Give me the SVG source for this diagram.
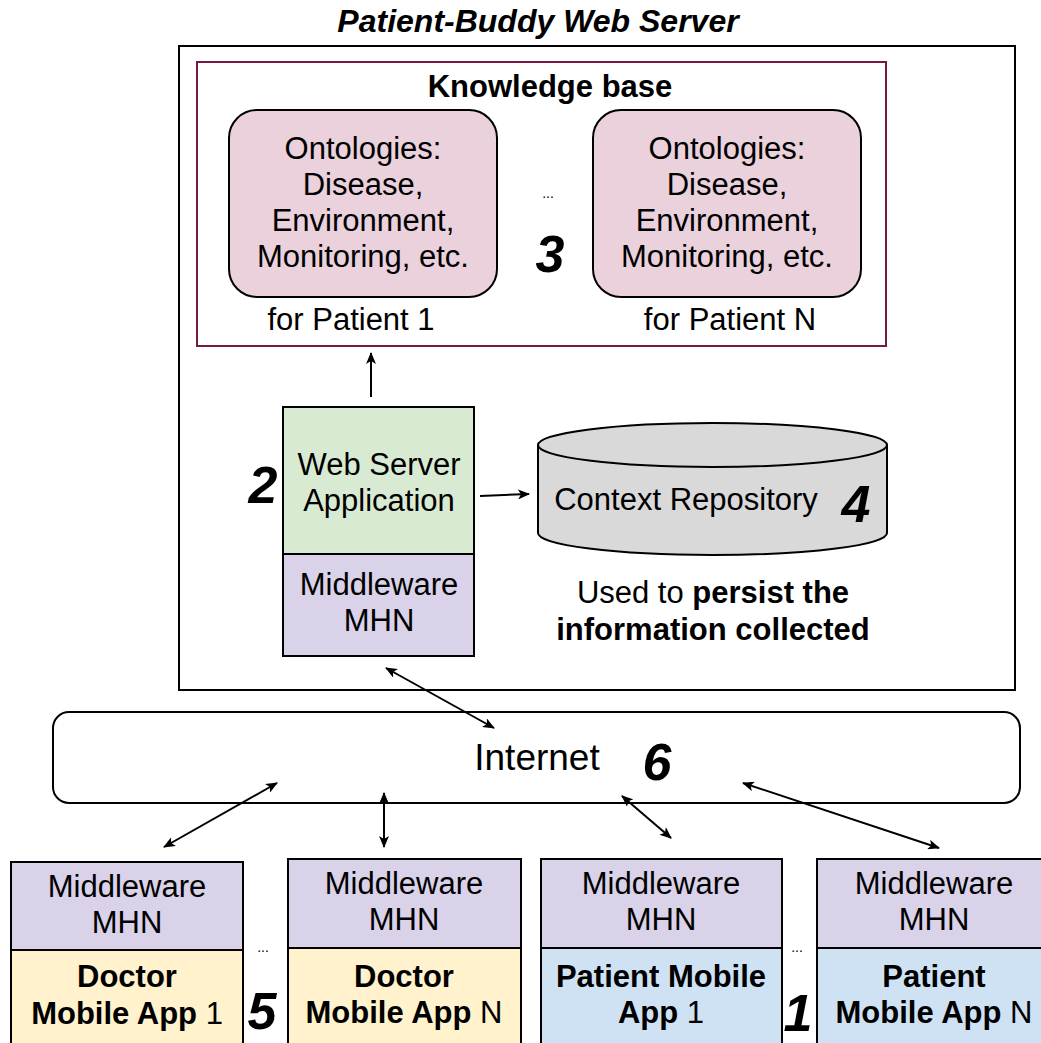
<svg xmlns="http://www.w3.org/2000/svg" width="1041" height="1043" viewBox="0 0 1041 1043">
<style>
text{font-family:"Liberation Sans",Arial,sans-serif;fill:#000;text-anchor:middle}
.t{font-size:31px}
.b{font-weight:bold}
.num{font-size:52px;font-weight:bold;font-style:italic}
.dots{font-size:14px}
.box{stroke:#000;stroke-width:2}
.conn{stroke:#000;stroke-width:2;fill:none}
</style>
<defs>
<marker id="ah" viewBox="0 0 12 10" refX="11" refY="5" markerWidth="12" markerHeight="10" markerUnits="userSpaceOnUse" orient="auto-start-reverse">
<path d="M0,0 L12,5 L0,10 L3,5 z" fill="#000"/>
</marker>
</defs>
<rect width="1041" height="1043" fill="#fff"/>

<text x="538" y="32" style="font-size:32px;font-weight:bold;font-style:italic">Patient-Buddy Web Server</text>

<g id="webserver">
<rect x="179" y="46" width="836" height="644" fill="#fff" class="box"/>
</g>

<g id="knowledge-base">
<rect x="197" y="62" width="689" height="284" fill="none" stroke="#741b47" stroke-width="2"/>
<text x="550" y="97" class="t b">Knowledge base</text>
<text x="548" y="198" class="dots">...</text>
<text x="550" y="272" class="num">3</text>
</g>

<g id="ontology-1">
<rect x="229" y="110" width="268" height="187" rx="28" fill="#ead1dc" class="box"/>
<text x="363" y="159" class="t">Ontologies:</text>
<text x="363" y="195" class="t">Disease,</text>
<text x="363" y="231" class="t">Environment,</text>
<text x="363" y="267" class="t">Monitoring, etc.</text>
<text x="351" y="330" class="t">for Patient 1</text>
</g>

<g id="ontology-n">
<rect x="593" y="110" width="268" height="187" rx="28" fill="#ead1dc" class="box"/>
<text x="727" y="159" class="t">Ontologies:</text>
<text x="727" y="195" class="t">Disease,</text>
<text x="727" y="231" class="t">Environment,</text>
<text x="727" y="267" class="t">Monitoring, etc.</text>
<text x="730" y="330" class="t">for Patient N</text>
</g>

<g id="web-server-app">
<rect x="283" y="407" width="191" height="147" fill="#d9ead3" class="box"/>
<text x="379" y="475" class="t">Web Server</text>
<text x="379" y="511" class="t">Application</text>
<text x="263" y="503" class="num">2</text>
</g>

<g id="server-middleware">
<rect x="283" y="554" width="191" height="102" fill="#d9d2e9" class="box"/>
<text x="379" y="595" class="t">Middleware</text>
<text x="379" y="631" class="t">MHN</text>
</g>

<g id="context-repository">
<path d="M538,445 L538,533 A174.5,22 0 0 0 887,533 L887,445" fill="#d9d9d9" class="box"/>
<ellipse cx="712.5" cy="445" rx="174.5" ry="22" fill="#d9d9d9" class="box"/>
<text x="686" y="510" class="t">Context Repository</text>
<text x="856" y="522" class="num">4</text>
<text x="713" y="603" class="t">Used to <tspan class="b">persist the</tspan></text>
<text x="713" y="640" class="t b">information collected</text>
</g>

<g id="internet">
<rect x="53" y="712" width="967" height="91" rx="16" fill="#fff" class="box"/>
<text x="537" y="770" style="font-size:37px">Internet</text>
<text x="657" y="780" class="num">6</text>
</g>

<g id="doctor-app-1">
<rect x="11" y="862" width="232" height="88" fill="#d9d2e9" class="box"/>
<rect x="11" y="950" width="232" height="100" fill="#fff2cc" class="box"/>
<text x="127" y="897" class="t">Middleware</text>
<text x="127" y="933" class="t">MHN</text>
<text x="127" y="987" class="t b">Doctor</text>
<text x="127" y="1024" class="t"><tspan class="b">Mobile App</tspan> 1</text>
</g>

<text x="263" y="952" class="dots">...</text>
<text x="262" y="1029" class="num">5</text>

<g id="doctor-app-n">
<rect x="288" y="859" width="233" height="89" fill="#d9d2e9" class="box"/>
<rect x="288" y="948" width="233" height="102" fill="#fff2cc" class="box"/>
<text x="404" y="894" class="t">Middleware</text>
<text x="404" y="930" class="t">MHN</text>
<text x="404" y="987" class="t b">Doctor</text>
<text x="404" y="1023" class="t"><tspan class="b">Mobile App</tspan> N</text>
</g>

<g id="patient-app-1">
<rect x="541" y="859" width="241" height="89" fill="#d9d2e9" class="box"/>
<rect x="541" y="948" width="241" height="102" fill="#cfe2f3" class="box"/>
<text x="661" y="894" class="t">Middleware</text>
<text x="661" y="930" class="t">MHN</text>
<text x="661" y="987" class="t b">Patient Mobile</text>
<text x="661" y="1023" class="t"><tspan class="b">App</tspan> 1</text>
</g>

<text x="797" y="952" class="dots">...</text>
<text x="798" y="1031" class="num">1</text>

<g id="patient-app-n">
<rect x="817" y="859" width="235" height="89" fill="#d9d2e9" class="box"/>
<rect x="817" y="948" width="235" height="102" fill="#cfe2f3" class="box"/>
<text x="934" y="894" class="t">Middleware</text>
<text x="934" y="930" class="t">MHN</text>
<text x="934" y="987" class="t b">Patient</text>
<text x="934" y="1023" class="t"><tspan class="b">Mobile App</tspan> N</text>
</g>

<g id="connectors">
<line x1="371" y1="397" x2="371" y2="353" class="conn" marker-end="url(#ah)"/>
<line x1="480" y1="496" x2="529" y2="494" class="conn" marker-end="url(#ah)"/>
<line x1="386" y1="668" x2="494" y2="728" class="conn" marker-start="url(#ah)" marker-end="url(#ah)"/>
<line x1="277" y1="783" x2="164" y2="847" class="conn" marker-start="url(#ah)" marker-end="url(#ah)"/>
<line x1="384" y1="793" x2="384" y2="847" class="conn" marker-start="url(#ah)" marker-end="url(#ah)"/>
<line x1="622" y1="796" x2="671" y2="838" class="conn" marker-start="url(#ah)" marker-end="url(#ah)"/>
<line x1="743" y1="783" x2="939" y2="848" class="conn" marker-start="url(#ah)" marker-end="url(#ah)"/>
</g>
</svg>
